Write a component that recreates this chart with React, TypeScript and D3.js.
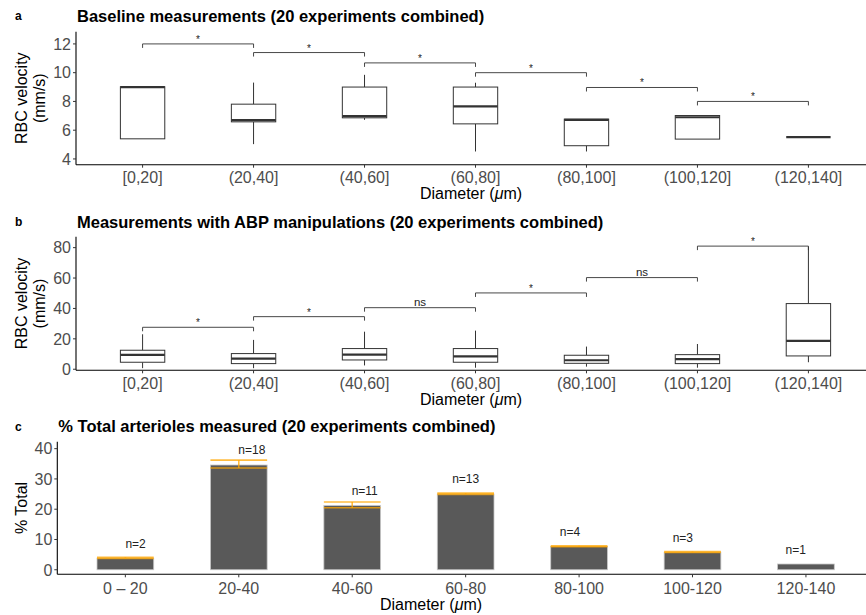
import React from "react";
import * as d3 from "d3";

const catsAB = ["[0,20]", "(20,40]", "(40,60]", "(60,80]", "(80,100]", "(100,120]", "(120,140]"];

// Panel a (baseline) box stats
const lowerA = [5.4, 5.03, 6.72, 4.52, 4.52, 5.38, 5.52];
const q1A = [5.4, 6.58, 6.86, 6.44, 4.92, 5.38, 5.52];
const medA = [9.0, 6.7, 6.98, 7.65, 6.72, 6.9, 5.52];
const q3A = [9.02, 7.81, 9.0, 9.0, 6.77, 7.02, 5.52];
const upperA = [9.02, 9.31, 9.85, 9.3, 6.77, 7.02, 5.52];
const bracketYA = [12.0, 11.4, 10.68, 10.0, 8.97, 8.0];
const bracketLabA = ["*", "*", "*", "*", "*", "*"];
const ticksA = [4, 6, 8, 10, 12];

// Panel b (ABP manipulations) box stats
const lowerB = [0.7, 0.7, 2.5, 1.0, 1.7, 1.0, 4.6];
const q1B = [4.6, 3.7, 6.1, 4.6, 3.9, 3.7, 8.75];
const medB = [9.4, 7.0, 9.6, 8.5, 5.9, 6.6, 18.6];
const q3B = [12.5, 10.3, 13.6, 13.6, 9.2, 9.6, 43.2];
const upperB = [23, 19.3, 24.7, 25.4, 14.9, 16.6, 80.7];
const bracketYB = [27.6, 34.6, 40.5, 50.2, 60.3, 81];
const bracketLabB = ["*", "*", "ns", "*", "ns", "*"];
const ticksB = [0, 20, 40, 60, 80];

// Panel c (% total)
const catsC = ["0 \u2013 20", "20-40", "40-60", "60-80", "80-100", "100-120", "120-140"];
const pctC = [3.85, 34.6, 21.2, 25.0, 7.7, 5.8, 1.9];
const errLowC = [3.7, 33.6, 20.5, 24.9, 7.6, 5.7, null];
const errHighC = [4.1, 36.2, 22.4, 25.3, 7.9, 6.0, null];
const nLabC = ["n=2", "n=18", "n=11", "n=13", "n=4", "n=3", "n=1"];
const nLabYC = [8.5, 39.6, 26.1, 29.9, 12.5, 10.7, 6.7];
const nLabDxC = [0.09, 0.115, 0.11, 0, -0.08, -0.085, -0.09];
const ticksC = [0, 10, 20, 30, 40];

const FONT = "'Liberation Sans', Arial, Helvetica, sans-serif";
const GREY30 = "#4d4d4d";
const LINE = "#333333";
const TICK_FS = 16;
const AXT_FS = 16;
const TITLE_FS = 16.5;

type BoxPanelProps = {
  top: number; bottom: number; domain: [number, number]; ticks: number[];
  lower: number[]; q1: number[]; med: number[]; q3: number[]; upper: number[];
  bracketY: number[]; bracketLab: string[];
  tag: string; title: string; tagY: number; titleY: number; labelY: number; axisTitleY: number;
};

function BoxPanel(p: BoxPanelProps) {
  const left = 76;
  const x = d3.scalePoint<string>().domain(catsAB).range([left, 875]).padding(0.6);
  const y = d3.scaleLinear().domain(p.domain).range([p.bottom, p.top]);
  const step = x.step();
  const hw = step * 0.2;
  const tip = 4;
  const cy = (p.top + p.bottom) / 2;
  return (
    <g>
      <text x={15} y={p.tagY} fontFamily={FONT} fontWeight="bold" fontSize={12}>{p.tag}</text>
      <text x={left + 1} y={p.titleY} fontFamily={FONT} fontWeight="bold" fontSize={TITLE_FS}>{p.title}</text>
      {/* axes */}
      <line x1={left} x2={left} y1={p.top} y2={p.bottom} stroke="#000" strokeWidth={1.1} />
      <line x1={left} x2={866} y1={p.bottom} y2={p.bottom} stroke="#000" strokeWidth={1.1} />
      {p.ticks.map((t) => (
        <g key={t}>
          <line x1={left - 3} x2={left} y1={y(t)} y2={y(t)} stroke={LINE} />
          <text x={left - 5} y={y(t)} dy="0.36em" textAnchor="end" fontFamily={FONT} fontSize={TICK_FS} fill={GREY30}>{t}</text>
        </g>
      ))}
      {catsAB.map((c) => (
        <g key={c}>
          <line x1={x(c)!} x2={x(c)!} y1={p.bottom} y2={p.bottom + 3} stroke={LINE} />
          <text x={x(c)!} y={p.labelY} textAnchor="middle" fontFamily={FONT} fontSize={TICK_FS} fill={GREY30}>{c}</text>
        </g>
      ))}
      <text x={(left + 866) / 2} y={p.axisTitleY} textAnchor="middle" fontFamily={FONT} fontSize={AXT_FS}>
        Diameter (<tspan fontStyle="italic">μ</tspan>m)
      </text>
      <text transform={`translate(21,${cy}) rotate(-90)`} textAnchor="middle" dy="0.35em" fontFamily={FONT} fontSize={AXT_FS}>RBC velocity</text>
      <text transform={`translate(39,${cy}) rotate(-90)`} textAnchor="middle" dy="0.35em" fontFamily={FONT} fontSize={AXT_FS}>(mm/s)</text>
      {/* boxes */}
      {catsAB.map((c, i) => {
        const cx = x(c)!;
        return (
          <g key={c} stroke={LINE} fill="none">
            <line x1={cx} x2={cx} y1={y(p.upper[i])} y2={y(p.q3[i])} strokeWidth={1} />
            <line x1={cx} x2={cx} y1={y(p.q1[i])} y2={y(p.lower[i])} strokeWidth={1} />
            <rect x={cx - hw} width={2 * hw} y={y(p.q3[i])} height={Math.max(0, y(p.q1[i]) - y(p.q3[i]))} fill="#fff" strokeWidth={1} />
            <line x1={cx - hw} x2={cx + hw} y1={y(p.med[i])} y2={y(p.med[i])} strokeWidth={2.2} />
          </g>
        );
      })}
      {/* significance brackets */}
      {p.bracketY.map((by, i) => {
        const x1 = x(catsAB[i])!;
        const x2 = x(catsAB[i + 1])!;
        const yy = y(by);
        return (
          <g key={i}>
            <path d={`M${x1},${yy + tip}V${yy}H${x2}V${yy + tip}`} fill="none" stroke={LINE} strokeWidth={0.9} />
            <text x={(x1 + x2) / 2} y={p.bracketLab[i] === "*" ? yy - 1 : yy - 2} textAnchor="middle" fontFamily={FONT} fontSize={p.bracketLab[i] === "*" ? 10 : 11.5} fill="#222">{p.bracketLab[i]}</text>
          </g>
        );
      })}
    </g>
  );
}

function BarPanel() {
  const left = 57.3;
  const top = 441.7;
  const bottom = 574.3;
  const x = d3.scalePoint<string>().domain(catsC).range([left, 874]).padding(0.6);
  const y = d3.scaleLinear().domain([-1.5, 42.3]).range([bottom, top]);
  const step = x.step();
  const bw = step * 0.5;
  return (
    <g>
      <text x={15} y={430.5} fontFamily={FONT} fontWeight="bold" fontSize={12}>c</text>
      <text x={58.3} y={432.3} fontFamily={FONT} fontWeight="bold" fontSize={TITLE_FS}>% Total arterioles measured (20 experiments combined)</text>
      {catsC.map((c, i) => (
        <rect key={c} x={x(c)! - bw / 2} width={bw} y={y(pctC[i])} height={y(0) - y(pctC[i])} fill="#595959" stroke="#c8c8c8" strokeWidth={0.8} />
      ))}
      {catsC.map((c, i) => {
        const lo = errLowC[i];
        const hi = errHighC[i];
        if (lo == null || hi == null) return null;
        const cx = x(c)!;
        return (
          <g key={c} stroke="#ffa500" strokeOpacity={0.75} strokeWidth={1.6}>
            <line x1={cx - bw / 2} x2={cx + bw / 2} y1={y(hi)} y2={y(hi)} />
            <line x1={cx - bw / 2} x2={cx + bw / 2} y1={y(lo)} y2={y(lo)} />
            <line x1={cx} x2={cx} y1={y(hi)} y2={y(lo)} />
          </g>
        );
      })}
      {catsC.map((c, i) => (
        <text key={c} x={x(c)! + nLabDxC[i] * step} y={y(nLabYC[i])} dy="0.35em" textAnchor="middle" fontFamily={FONT} fontSize={12} fill="#222">{nLabC[i]}</text>
      ))}
      <line x1={left} x2={left} y1={top} y2={bottom} stroke="#000" strokeWidth={1.1} />
      <line x1={left} x2={866} y1={bottom} y2={bottom} stroke="#000" strokeWidth={1.1} />
      {ticksC.map((t) => (
        <g key={t}>
          <line x1={left - 3} x2={left} y1={y(t)} y2={y(t)} stroke={LINE} />
          <text x={left - 5} y={y(t)} dy="0.36em" textAnchor="end" fontFamily={FONT} fontSize={TICK_FS} fill={GREY30}>{t}</text>
        </g>
      ))}
      {catsC.map((c) => (
        <g key={c}>
          <line x1={x(c)!} x2={x(c)!} y1={bottom} y2={bottom + 3} stroke={LINE} />
          <text x={x(c)!} y={593.5} textAnchor="middle" fontFamily={FONT} fontSize={TICK_FS} fill={GREY30}>{c}</text>
        </g>
      ))}
      <text x={431} y={610} textAnchor="middle" fontFamily={FONT} fontSize={AXT_FS}>
        Diameter (<tspan fontStyle="italic">μ</tspan>m)
      </text>
      <text transform={`translate(21,${(top + bottom) / 2}) rotate(-90)`} textAnchor="middle" dy="0.35em" fontFamily={FONT} fontSize={AXT_FS}>% Total</text>
    </g>
  );
}

export default function App() {
  return (
    <svg width={866} height={615} style={{ position: "absolute", left: 0, top: 0, background: "#fff", display: "block" }}>
      <rect width={866} height={615} fill="#fff" />
      <BoxPanel
        top={31.7} bottom={164.7} domain={[3.6, 12.85]} ticks={ticksA}
        lower={lowerA} q1={q1A} med={medA} q3={q3A} upper={upperA}
        bracketY={bracketYA} bracketLab={bracketLabA}
        tag="a" title="Baseline measurements (20 experiments combined)"
        tagY={19.5} titleY={21.5} labelY={183} axisTitleY={198.5}
      />
      <BoxPanel
        top={236.7} bottom={370.3} domain={[-0.7, 87.2]} ticks={ticksB}
        lower={lowerB} q1={q1B} med={medB} q3={q3B} upper={upperB}
        bracketY={bracketYB} bracketLab={bracketLabB}
        tag="b" title="Measurements with ABP manipulations (20 experiments combined)"
        tagY={226} titleY={227.5} labelY={389} axisTitleY={405}
      />
      <BarPanel />
    </svg>
  );
}
